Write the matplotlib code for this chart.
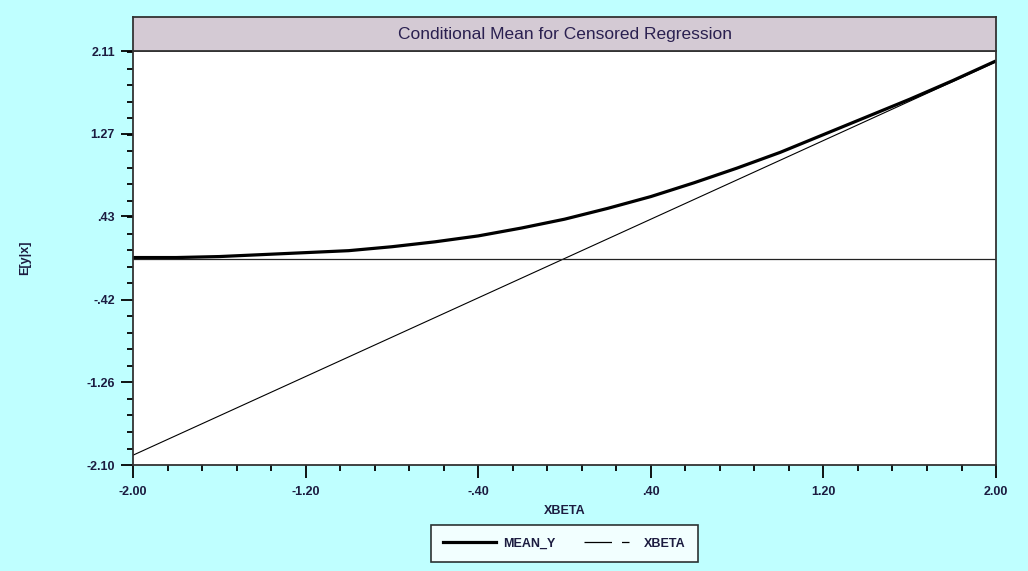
import matplotlib.pyplot as plt
from matplotlib.lines import Line2D
from matplotlib.ticker import AutoMinorLocator

# valores
xbeta = [-2.0, -1.8, -1.6, -1.4, -1.2, -1.0, -0.8, -0.6, -0.4, -0.2, 0.0,
         0.2, 0.4, 0.6, 0.8, 1.0, 1.2, 1.4, 1.6, 1.8, 2.0]
mean_y = [0.01, 0.01, 0.02, 0.04, 0.06, 0.08, 0.12, 0.17, 0.23, 0.31, 0.40,
          0.51, 0.63, 0.77, 0.92, 1.08, 1.26, 1.44, 1.62, 1.81, 2.01]
xticks = [-2.0, -1.2, -0.4, 0.4, 1.2, 2.0]
xtick_labels = ["-2.00", "-1.20", "-.40", ".40", "1.20", "2.00"]
yticks = [-2.10, -1.26, -0.42, 0.43, 1.27, 2.11]
ytick_labels = ["-2.10", "-1.26", "-.42", ".43", "1.27", "2.11"]

plt.rcParams['font.family'] = ['Liberation Sans', 'DejaVu Sans']
txt_color = '#1c1c40'
fs = 9

fig = plt.figure(figsize=(10.28, 5.71), dpi=100, facecolor='#bfffff')
ax = fig.add_axes([0.1294, 0.1856, 0.8395, 0.7250])
ax.set_facecolor('white')

ax.plot(xbeta, mean_y, color='black', lw=2.3, solid_capstyle='butt')
ax.plot(xbeta, xbeta, color='black', lw=0.8)
ax.axhline(0, color='#222222', lw=0.9)

ax.set_xlim(-2.0, 2.0)
ax.set_ylim(-2.10, 2.11)
ax.set_xticks(xticks)
ax.set_xticklabels(xtick_labels)
ax.set_yticks(yticks)
ax.set_yticklabels(ytick_labels)
ax.xaxis.set_minor_locator(AutoMinorLocator(5))
ax.yaxis.set_minor_locator(AutoMinorLocator(5))
ax.tick_params(which='major', length=9, width=1.3, direction='out',
               labelsize=fs, labelcolor=txt_color, pad=4)
ax.tick_params(which='minor', length=4, width=1.3, direction='out')
for lbl in ax.get_xticklabels() + ax.get_yticklabels():
    lbl.set_fontweight('bold')
ax.tick_params(axis='x', pad=6)

for s in ax.spines.values():
    s.set_linewidth(1.3)
    s.set_color('#333333')

ax.set_xlabel("XBETA", fontsize=fs, fontweight='bold', color=txt_color, labelpad=5)
ax.set_ylabel("E[y|x]", fontsize=fs, fontweight='bold', color=txt_color, labelpad=40)

# caja del titulo
tax = fig.add_axes([0.1294, 0.9107, 0.8395, 0.0595])
tax.set_facecolor('#d4cad4')
tax.set_xticks([])
tax.set_yticks([])
for s in tax.spines.values():
    s.set_linewidth(1.3)
    s.set_color('#333333')
tax.text(0.5, 0.5, "Conditional Mean for Censored Regression", ha='center', va='center',
         fontsize=12.5, color='#2a2050', transform=tax.transAxes)

handles = [Line2D([], [], color='black', lw=2.3),
           Line2D([], [], color='black', lw=0.9, dashes=(22, 8, 6, 60))]
leg = fig.legend(handles, ["MEAN_Y", "XBETA"], loc='center', bbox_to_anchor=(0.549, 0.048),
                 ncol=2, frameon=True, fancybox=False, fontsize=fs, handlelength=4.2,
                 handletextpad=0.6, columnspacing=2.3, borderpad=1.0, edgecolor='black')
leg.get_frame().set_linewidth(1.2)
for t in leg.get_texts():
    t.set_fontweight('bold')
    t.set_color(txt_color)

fig.savefig("out.png", dpi=100, facecolor=fig.get_facecolor())
